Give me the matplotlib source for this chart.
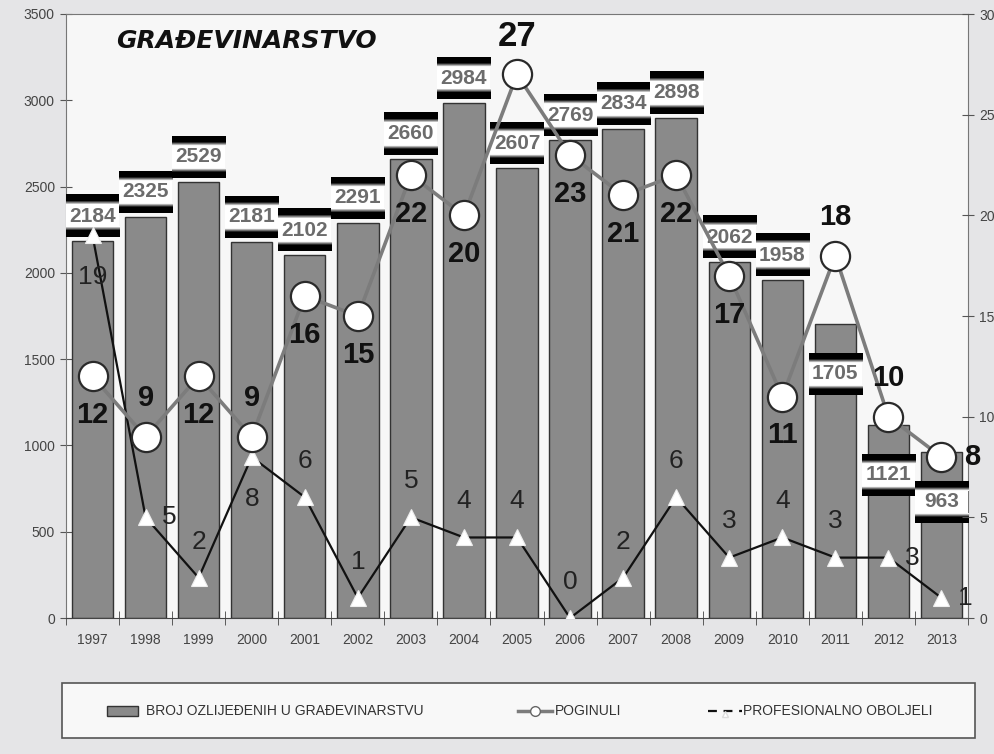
import matplotlib
matplotlib.use('Agg')
import matplotlib.pyplot as plt
import numpy as np
from matplotlib.patches import Rectangle
from matplotlib.lines import Line2D

years = ['1997', '1998', '1999', '2000', '2001', '2002', '2003', '2004', '2005',
         '2006', '2007', '2008', '2009', '2010', '2011', '2012', '2013']
ozlijedeni = [2184, 2325, 2529, 2181, 2102, 2291, 2660, 2984, 2607, 2769,
              2834, 2898, 2062, 1958, 1705, 1121, 963]
poginuli = [12, 9, 12, 9, 16, 15, 22, 20, 27, 23, 21, 22, 17, 11, 18, 10, 8]
oboljeli = [19, 5, 2, 8, 6, 1, 5, 4, 4, 0, 2, 6, 3, 4, 3, 3, 1]
legend_labels = ['BROJ OZLIJEĐENIH U GRAĐEVINARSTVU', 'POGINULI', 'PROFESIONALNO OBOLJELI']

# label placement (b=below, t=above, r=right)
pog_place = ['b', 't', 'b', 't', 'b', 'b', 'b', 'b', 't', 'b', 'b', 'b', 'b', 'b', 't', 't', 'r']
obo_place = ['b', 'r', 't', 'b', 't', 't', 't', 't', 't', 't', 't', 't', 't', 't', 't', 'r', 'r']

FONT = ['Liberation Sans', 'DejaVu Sans']
plt.rcParams['font.family'] = FONT

W, H = 994, 754
fig = plt.figure(figsize=(W / 100, H / 100), dpi=100, facecolor='#e5e5e7')
ax = fig.add_axes([66 / W, 136 / H, 902 / W, 604 / H])
ax.set_facecolor('#f7f7f7')
n = len(years)
x = np.arange(n)
ax.bar(x, ozlijedeni, width=0.78, color='#8a8a8a', edgecolor='#333333', linewidth=1.0, zorder=2)

ymax = 3500
u = ymax / 604.0  # data units per pixel

top_grad = np.concatenate([np.zeros(6), np.linspace(0, 1, 5)]).reshape(-1, 1)
bot_grad = top_grad[::-1]
for i, v in enumerate(ozlijedeni):
    if v > 1800:
        c = v + 25 * u
    else:
        c = v - 50 * u
    half = 21 * u
    inner = 11 * u
    ax.add_patch(Rectangle((i - 0.5, c - inner), 1.0, 2 * inner, facecolor='white',
                           edgecolor='none', zorder=3))
    ax.imshow(top_grad, extent=(i - 0.5, i + 0.5, c + inner, c + half), cmap='gray',
              vmin=0, vmax=1, aspect='auto', zorder=3, interpolation='bilinear', origin='upper')
    ax.imshow(bot_grad, extent=(i - 0.5, i + 0.5, c - half, c - inner), cmap='gray',
              vmin=0, vmax=1, aspect='auto', zorder=3, interpolation='bilinear', origin='upper')
    ax.text(i, c, str(v), ha='center', va='center', fontsize=15, fontweight='bold',
            color='#6c6c6c', zorder=4)

ax.set_xlim(-0.5, n - 0.5)
ax.set_ylim(0, ymax)
ax.set_yticks(range(0, 3501, 500))
ax.set_xticks(x)
ax.set_xticklabels(years)
ax.set_xticks(np.arange(-0.5, n, 1.0), minor=True)
ax.tick_params(axis='x', which='major', length=0, pad=11, labelsize=10, labelcolor='#444444')
ax.tick_params(axis='x', which='minor', length=10, direction='inout', color='#444444')
ax.tick_params(axis='y', length=8, direction='inout', color='#555555', labelsize=10,
               labelcolor='#444444', pad=4)
for s in ['left', 'right', 'top']:
    ax.spines[s].set_color('#777777')
ax.spines['bottom'].set_color('#444444')

ax.text(0.055, 0.955, 'GRAĐEVINARSTVO', transform=ax.transAxes, fontsize=18,
        fontweight='bold', fontstyle='italic', family='DejaVu Sans', color='#111111',
        ha='left', va='center', zorder=5)

ax2 = ax.twinx()
ax2.set_ylim(0, 30)
ax2.set_yticks(range(0, 31, 5))
ax2.tick_params(axis='y', length=8, direction='inout', color='#555555', labelsize=10,
                labelcolor='#444444', pad=4)
for s in ['left', 'right', 'top', 'bottom']:
    ax2.spines[s].set_visible(False)

ax2.plot(x, oboljeli, color='#111111', lw=1.6, marker='^', ms=12, mfc='white',
         mec='#eeeeee', mew=0.8, zorder=5)
ax2.plot(x, poginuli, color='#7c7c7c', lw=2.6, marker='o', ms=21, mfc='white',
         mec='#2a2a2a', mew=1.6, zorder=6)

off = {'b': (0, -28), 't': (0, 28), 'r': (22, 0)}
for i, (v, p) in enumerate(zip(poginuli, pog_place)):
    dx, dy = off[p]
    fs = 21
    if v == max(poginuli):
        fs = 25
        dy = 27
    ax2.annotate(str(v), (i, v), xytext=(dx, dy), textcoords='offset points', ha='center',
                 va='center', fontsize=fs, fontweight='bold', color='#111111', zorder=7)

off2 = {'b': (0, -30), 't': (0, 26), 'r': (17, 0)}
for i, (v, p) in enumerate(zip(oboljeli, obo_place)):
    dx, dy = off2[p]
    ax2.annotate(str(v), (i, v), xytext=(dx, dy), textcoords='offset points', ha='center',
                 va='center', fontsize=19, color='#222222', zorder=7)

# legend box (drawn manually in figure pixel coordinates)
def fx(px):
    return px / W

def fy(py):
    return 1 - py / H

fig.patches.append(Rectangle((fx(62), fy(738)), fx(975) - fx(62), fy(683) - fy(738),
                             transform=fig.transFigure, facecolor='#f8f8f8',
                             edgecolor='#555555', linewidth=1.2, zorder=1))
ly = fy(711)
fig.patches.append(Rectangle((fx(107), ly - 5 / H), 31 / W, 10 / H, transform=fig.transFigure,
                             facecolor='#8a8a8a', edgecolor='#333333', linewidth=1.0, zorder=2))
fig.text(fx(146), ly, legend_labels[0], ha='left', va='center', fontsize=10, color='#333333')
fig.lines.append(Line2D([fx(518), fx(552)], [ly, ly], transform=fig.transFigure, color='#7c7c7c',
                        lw=2.5, zorder=2))
fig.lines.append(Line2D([fx(535)], [ly], transform=fig.transFigure, marker='o', ms=7,
                        mfc='white', mec='#666666', lw=0, zorder=3))
fig.text(fx(555), ly, legend_labels[1], ha='left', va='center', fontsize=10, color='#333333')
fig.lines.append(Line2D([fx(708), fx(742)], [ly, ly], transform=fig.transFigure, color='#111111',
                        lw=1.6, ls=(0, (4, 3)), zorder=2))
fig.lines.append(Line2D([fx(725)], [ly - 3 / H], transform=fig.transFigure, marker='^', ms=5,
                        mfc='white', mec='#dddddd', lw=0, zorder=3))
fig.text(fx(743), ly, legend_labels[2], ha='left', va='center', fontsize=10, color='#333333')

fig.savefig('out.png', dpi=100, facecolor=fig.get_facecolor())
